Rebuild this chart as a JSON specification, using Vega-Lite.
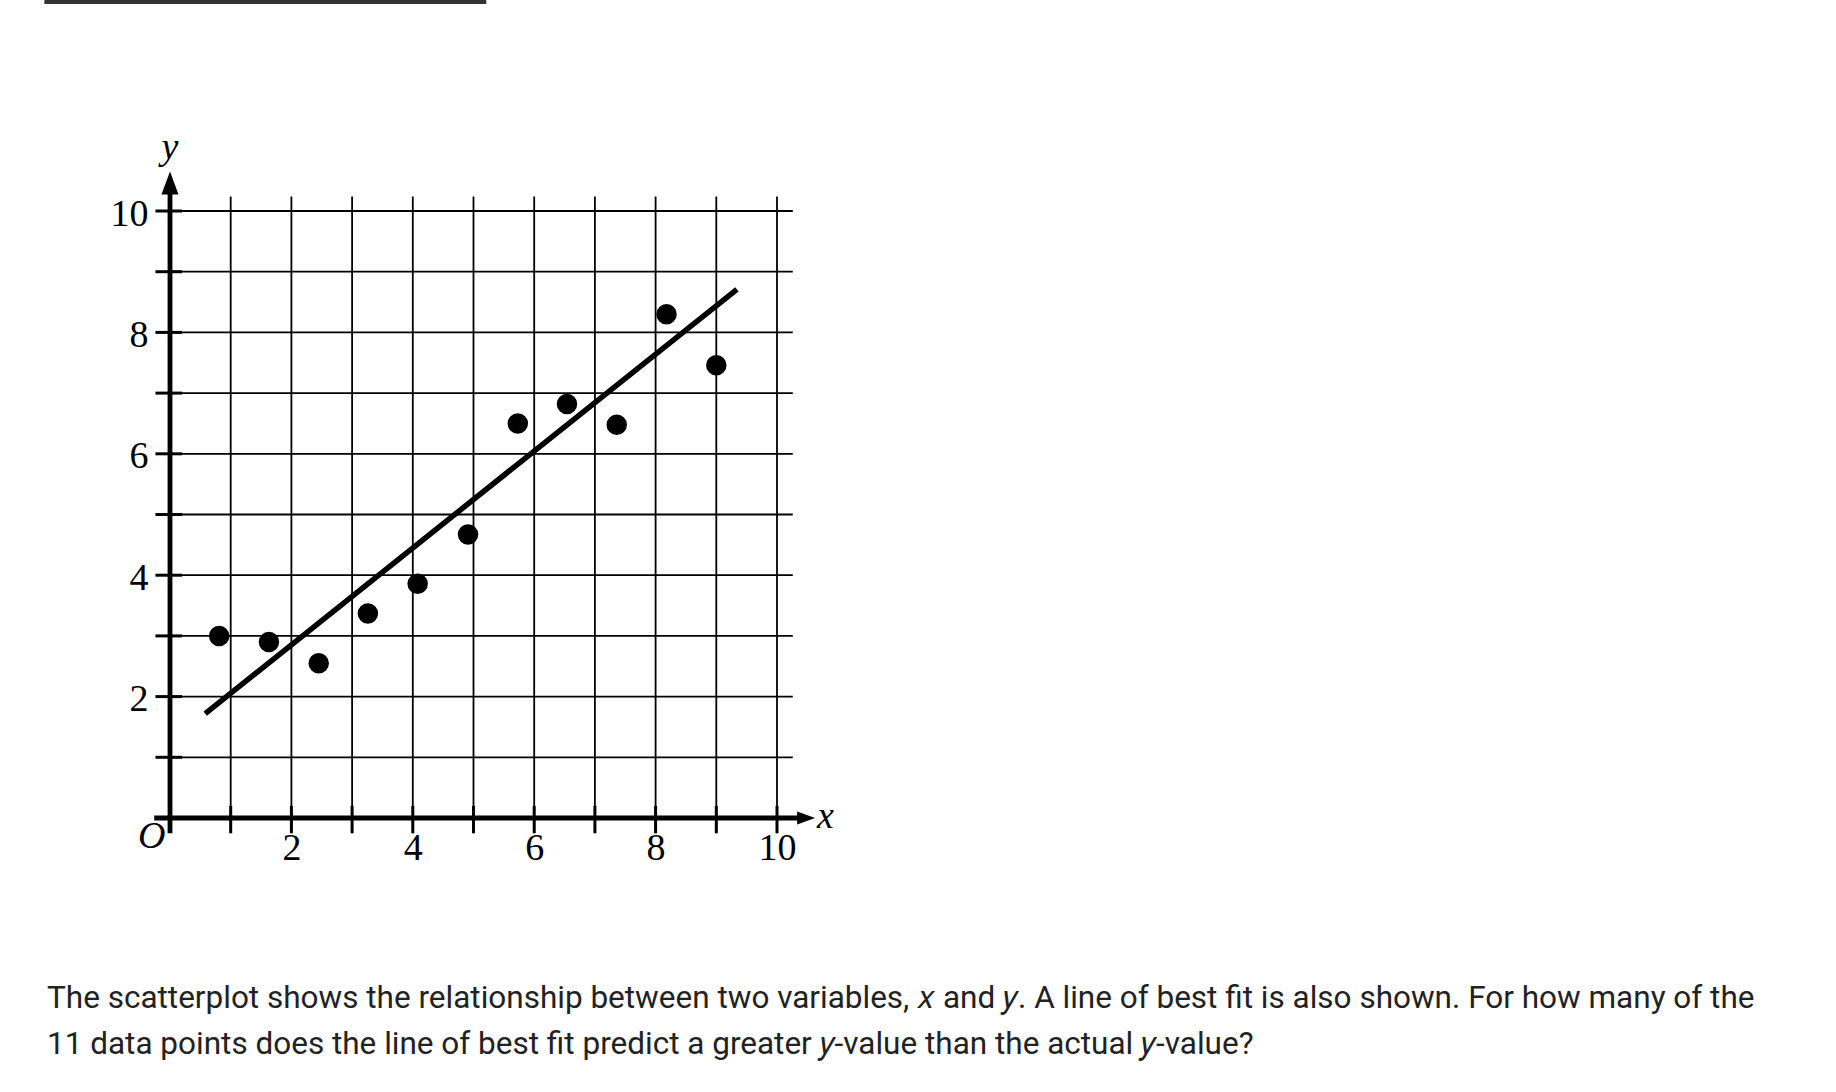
{
  "$schema": "https://vega.github.io/schema/vega-lite/v6.json",
  "width": 607,
  "height": 607,
  "autosize": {"type": "none"},
  "padding": {"left": 170, "top": 211, "right": 1059, "bottom": 274},
  "background": "white",
  "config": {
    "view": {"stroke": null},
    "axis": {"domain": false, "ticks": false, "tickSize": 0, "grid": false, "labelFlush": false, "labelFont": "Liberation Serif", "labelFontSize": 38, "labelColor": "#000000"}
  },
  "title": {
    "text": [
      "The scatterplot shows the relationship between two variables, 𝑥 and 𝑦. A line of best fit is also shown. For how many of the",
      "11 data points does the line of best fit predict a greater 𝑦-value than the actual 𝑦-value?"
    ],
    "orient": "bottom",
    "anchor": "start",
    "frame": "group",
    "dx": -123,
    "offset": 116,
    "font": "Roboto",
    "fontSize": 31.5,
    "fontWeight": "normal",
    "color": "#222222",
    "lineHeight": 46
  },
  "datasets": {
    "points": [
      {"x": 0.81, "y": 3.0},
      {"x": 1.63, "y": 2.9},
      {"x": 2.45, "y": 2.55},
      {"x": 3.26, "y": 3.37},
      {"x": 4.08, "y": 3.86},
      {"x": 4.91, "y": 4.67},
      {"x": 5.73, "y": 6.5},
      {"x": 6.54, "y": 6.82},
      {"x": 7.36, "y": 6.48},
      {"x": 8.18, "y": 8.3},
      {"x": 9.0, "y": 7.46}
    ],
    "fit": [{"x": 0.58, "y": 1.72, "x2": 9.34, "y2": 8.71}],
    "grid": [{"v": 1}, {"v": 2}, {"v": 3}, {"v": 4}, {"v": 5}, {"v": 6}, {"v": 7}, {"v": 8}, {"v": 9}, {"v": 10}],
    "one": [{}]
  },
  "layer": [
    {
      "data": {"name": "one"},
      "mark": {"type": "rect", "color": "#333333"},
      "encoding": {
        "x": {"datum": -2.07, "scale": {"domain": [0, 10], "nice": false, "zero": false}, "axis": {"values": [2, 4, 6, 8, 10], "format": "d", "title": null, "labelBaseline": "alphabetic", "labelPadding": 41, "labelDx": -3}},
        "x2": {"datum": 5.21},
        "y": {"datum": 13.48, "scale": {"domain": [0, 10], "nice": false, "zero": false}, "axis": {"values": [2, 4, 6, 8, 10], "format": "d", "title": null, "labelBaseline": "middle", "labelPadding": 22, "labelOffset": 3}},
        "y2": {"datum": 13.41}
      }
    },
    {
      "data": {"name": "grid"},
      "mark": {"type": "rule", "color": "#000000", "strokeWidth": 1.8},
      "encoding": {
        "x": {"field": "v", "type": "quantitative"},
        "y": {"datum": -0.25},
        "y2": {"datum": 10.24}
      }
    },
    {
      "data": {"name": "grid"},
      "mark": {"type": "rule", "color": "#000000", "strokeWidth": 1.8},
      "encoding": {
        "y": {"field": "v", "type": "quantitative"},
        "x": {"datum": 0},
        "x2": {"datum": 10.26}
      }
    },
    {
      "data": {"name": "grid"},
      "mark": {"type": "rule", "color": "#000000", "strokeWidth": 3},
      "encoding": {
        "x": {"field": "v", "type": "quantitative"},
        "y": {"datum": -0.25},
        "y2": {"datum": 0.2}
      }
    },
    {
      "data": {"name": "grid"},
      "mark": {"type": "rule", "color": "#000000", "strokeWidth": 3},
      "encoding": {
        "y": {"field": "v", "type": "quantitative"},
        "x": {"datum": -0.24},
        "x2": {"datum": 0.2}
      }
    },
    {
      "data": {"name": "one"},
      "mark": {"type": "rule", "color": "#000000", "strokeWidth": 4.8},
      "encoding": {
        "y": {"datum": 0},
        "x": {"datum": -0.26},
        "x2": {"datum": 10.35}
      }
    },
    {
      "data": {"name": "one"},
      "mark": {"type": "rule", "color": "#000000", "strokeWidth": 4.8},
      "encoding": {
        "x": {"datum": 0},
        "y": {"datum": -0.25},
        "y2": {"datum": 10.33}
      }
    },
    {
      "data": {"name": "one"},
      "mark": {"type": "point", "filled": true, "opacity": 1, "color": "#000000", "shape": "M-1,-0.72L1,0L-1,0.72Z", "size": 324},
      "encoding": {
        "x": {"datum": 10.48},
        "y": {"datum": 0}
      }
    },
    {
      "data": {"name": "one"},
      "mark": {"type": "point", "filled": true, "opacity": 1, "color": "#000000", "shape": "M-0.74,1L0,-1L0.74,1Z", "size": 529},
      "encoding": {
        "x": {"datum": 0},
        "y": {"datum": 10.46}
      }
    },
    {
      "data": {"name": "fit"},
      "mark": {"type": "rule", "color": "#000000", "strokeWidth": 5.5},
      "encoding": {
        "x": {"field": "x", "type": "quantitative"},
        "y": {"field": "y", "type": "quantitative"},
        "x2": {"field": "x2"},
        "y2": {"field": "y2"}
      }
    },
    {
      "data": {"name": "points"},
      "mark": {"type": "circle", "color": "#000000", "opacity": 1, "size": 420},
      "encoding": {
        "x": {"field": "x", "type": "quantitative"},
        "y": {"field": "y", "type": "quantitative"}
      }
    },
    {
      "data": {"name": "one"},
      "mark": {"type": "text", "text": "y", "font": "Liberation Serif", "fontStyle": "italic", "fontSize": 38, "align": "center", "baseline": "alphabetic", "color": "#000000"},
      "encoding": {
        "x": {"datum": 0},
        "y": {"datum": 10.86}
      }
    },
    {
      "data": {"name": "one"},
      "mark": {"type": "text", "text": "x", "font": "Liberation Serif", "fontStyle": "italic", "fontSize": 38, "align": "center", "baseline": "alphabetic", "color": "#000000"},
      "encoding": {
        "x": {"datum": 10.8},
        "y": {"datum": -0.165}
      }
    },
    {
      "data": {"name": "one"},
      "mark": {"type": "text", "text": "O", "font": "Liberation Serif", "fontStyle": "italic", "fontSize": 38, "align": "center", "baseline": "alphabetic", "color": "#000000"},
      "encoding": {
        "x": {"datum": -0.3},
        "y": {"datum": -0.49}
      }
    }
  ]
}
